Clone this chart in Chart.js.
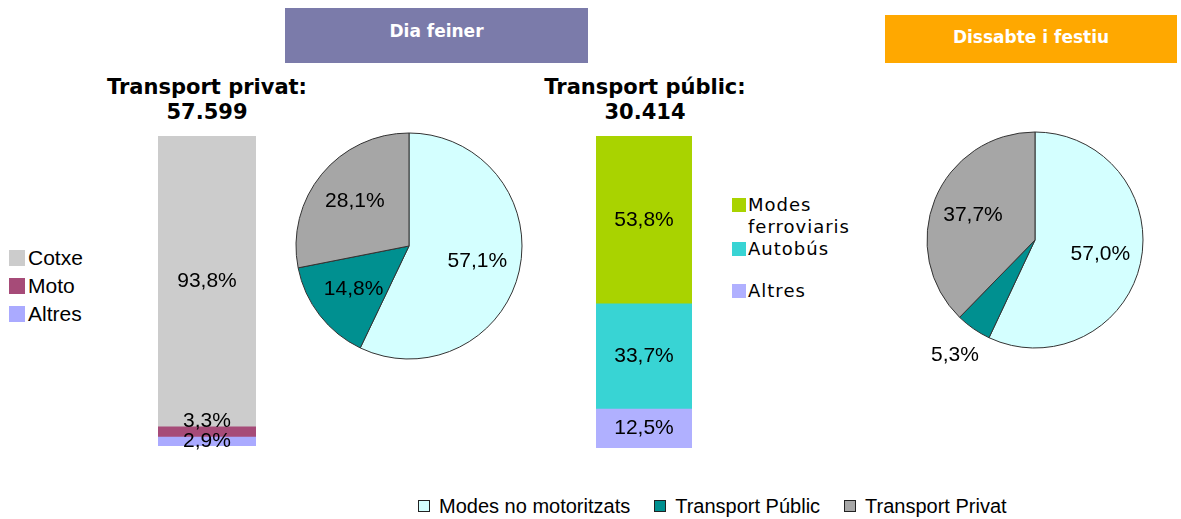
<!DOCTYPE html>
<html>
<head>
<meta charset="utf-8">
<script src="https://cdn.jsdelivr.net/npm/chart.js@4"></script>
<style>
    body { margin: 0; background: #fff; }
    #page { position: relative; width: 1181px; height: 519px; overflow: hidden; font-family: "Liberation Sans", Arial, sans-serif; }
    canvas { position: absolute; }
    .box-title { position: absolute; color: #fff; font: bold 17px "DejaVu Sans", Verdana, sans-serif; text-align: center; line-height: 22px; }
    .group-title { position: absolute; width: 300px; text-align: center; font: bold 21px "DejaVu Sans", Verdana, sans-serif; line-height: 25px; color: #000; }
    .legend-left { position: absolute; left: 9px; top: 244px; font-size: 21px; }
    .legend-left div { display: flex; align-items: center; height: 28px; }
    .legend-left span.sw { width: 16px; height: 16px; margin-right: 3px; }
    .legend-pub { position: absolute; left: 732px; font: 18px "DejaVu Sans", Verdana, sans-serif; line-height: 22px; letter-spacing: 1px; }
    .legend-pub span.sw { position: absolute; left: 0; top: 4px; width: 14px; height: 14px; }
    .legend-pub div.txt { margin-left: 16px; }
    .legend-bottom { position: absolute; left: 418px; top: 494px; display: flex; gap: 24px; font-size: 20px; line-height: 24px; }
    .legend-bottom div { display: flex; align-items: center; }
    .legend-bottom span.sw { width: 10px; height: 10px; border: 1px solid #222; margin-right: 9px; }
</style>
</head>
<body>
<div id="page">
    <div class="box-title" style="left:285px;top:8px;width:303px;height:43px;padding-top:12px;background:#7b7baa;">Dia feiner</div>
    <div class="box-title" style="left:885px;top:15px;width:292px;height:37px;padding-top:11px;background:#ffa800;">Dissabte i festiu</div>

    <div class="group-title" style="left:57px;top:75px;">Transport privat:<br>57.599</div>
    <div class="group-title" style="left:495px;top:75px;">Transport públic:<br>30.414</div>

    <div class="legend-left" id="legend-privat"></div>
    <div id="legend-public"></div>
    <div class="legend-bottom" id="legend-pie"></div>

    <canvas id="bar-privat" width="134" height="342" style="left:140px;top:126px;"></canvas>
    <canvas id="bar-public" width="132" height="344" style="left:578px;top:126px;"></canvas>
    <canvas id="pie-feiner" width="280" height="280" style="left:269px;top:106px;"></canvas>
    <canvas id="pie-festiu" width="280" height="280" style="left:895px;top:100px;"></canvas>
</div>

<script>
// Transport privat (dia feiner)
const privatLabels = ['Cotxe', 'Moto', 'Altres'];
const privatValues = [93.8, 3.3, 2.9];
const privatColors = ['#cccccc', '#a64b78', '#aaaaff'];

// Transport públic (dia feiner)
const publicLabels = ['Modes ferroviaris', 'Autobús', 'Altres'];
const publicValues = [53.8, 33.7, 12.5];
const publicColors = ['#a9d300', '#38d4d4', '#b0b0ff'];

// Repartiment modal
const pieLabels = ['Modes no motoritzats', 'Transport Públic', 'Transport Privat'];
const feinerValues = [57.1, 14.8, 28.1];
const festiuValues = [57.0, 5.3, 37.7];
const pieColors = ['#d4ffff', '#009090', '#a6a6a6'];

const fmt = v => v.toFixed(1).replace('.', ',') + '%';
const labelFont = '21px "Liberation Sans", Arial, sans-serif';

// Etiquetes de les barres (de baix a dalt, sense solapar-se)
const barLabels = {
    id: 'barLabels',
    afterDatasetsDraw(chart) {
        const ctx = chart.ctx;
        ctx.save();
        ctx.font = labelFont;
        ctx.fillStyle = '#000';
        ctx.textAlign = 'center';
        ctx.textBaseline = 'middle';
        let prevY = null;
        chart.data.datasets.forEach((ds, i) => {
            const bar = chart.getDatasetMeta(i).data[0];
            let y = (bar.y + bar.base) / 2;
            if (prevY !== null && prevY - y < 20) y = prevY - 20;
            ctx.fillText(fmt(ds.data[0]), bar.x, y);
            prevY = y;
        });
        ctx.restore();
    }
};

// Etiquetes dels pastissos
const pieValueLabels = {
    id: 'pieValueLabels',
    afterDatasetsDraw(chart) {
        const ctx = chart.ctx;
        const values = chart.data.datasets[0].data;
        ctx.save();
        ctx.font = labelFont;
        ctx.fillStyle = '#000';
        ctx.textAlign = 'center';
        ctx.textBaseline = 'middle';
        chart.getDatasetMeta(0).data.forEach((arc, i) => {
            const p = arc.getProps(['x', 'y', 'startAngle', 'endAngle', 'outerRadius']);
            const mid = (p.startAngle + p.endAngle) / 2;
            const d = values[i] < 10 ? p.outerRadius * 1.3 : p.outerRadius * 0.62;
            ctx.fillText(fmt(values[i]), p.x + Math.cos(mid) * d, p.y + Math.sin(mid) * d);
        });
        ctx.restore();
    }
};

function stackedBar(id, labels, values, colors, pad) {
    // el primer element va a dalt: s'apila a l'inrevés
    const datasets = labels.map((l, i) => ({
        label: l,
        data: [values[i]],
        backgroundColor: colors[i],
        borderWidth: 0,
        barPercentage: 1,
        categoryPercentage: 1
    })).reverse();
    return new Chart(document.getElementById(id), {
        type: 'bar',
        data: { labels: [''], datasets },
        options: {
            responsive: false,
            animation: false,
            layout: { padding: pad },
            scales: {
                x: { stacked: true, display: false },
                y: { stacked: true, display: false, min: 0, max: 100 }
            },
            plugins: { legend: { display: false }, tooltip: { enabled: false } }
        },
        plugins: [barLabels]
    });
}

function pie(id, values, radius) {
    return new Chart(document.getElementById(id), {
        type: 'pie',
        data: {
            labels: pieLabels,
            datasets: [{
                data: values,
                backgroundColor: pieColors,
                borderColor: '#333',
                borderWidth: 1,
                radius: radius
            }]
        },
        options: {
            responsive: false,
            animation: false,
            plugins: { legend: { display: false }, tooltip: { enabled: false } }
        },
        plugins: [pieValueLabels]
    });
}

stackedBar('bar-privat', privatLabels, privatValues, privatColors, { left: 18, right: 18, top: 10, bottom: 22 });
stackedBar('bar-public', publicLabels, publicValues, publicColors, { left: 18, right: 18, top: 10, bottom: 22 });
pie('pie-feiner', feinerValues, 113);
pie('pie-festiu', festiuValues, 108);

// Llegendes
document.getElementById('legend-privat').innerHTML = privatLabels.map((l, i) =>
    `<div><span class="sw" style="background:${privatColors[i]}"></span>${l}</div>`).join('');

const pubTops = [194, 238, 280];
document.getElementById('legend-public').innerHTML = publicLabels.map((l, i) =>
    `<div class="legend-pub" style="top:${pubTops[i]}px"><span class="sw" style="background:${publicColors[i]}"></span><div class="txt">${l.replace(' ', '<br>')}</div></div>`).join('');

document.getElementById('legend-pie').innerHTML = pieLabels.map((l, i) =>
    `<div><span class="sw" style="background:${pieColors[i]}"></span>${l}</div>`).join('');
</script>
</body>
</html>
